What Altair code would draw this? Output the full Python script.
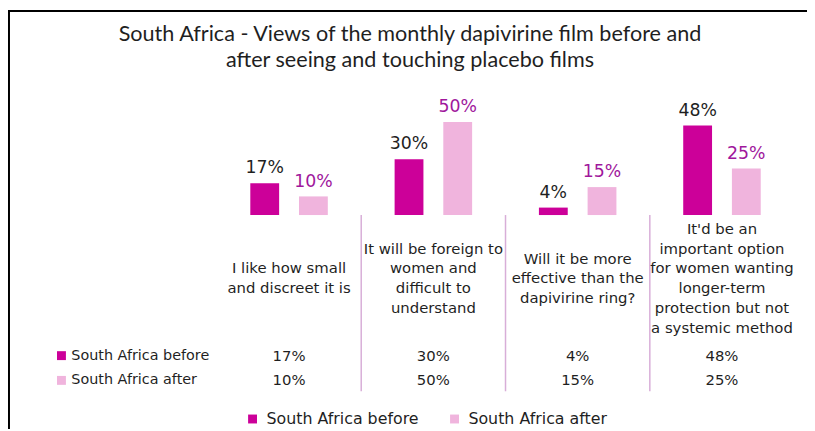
import altair as alt
import pandas as pd

# ---- data ----
cat_keys = ["small", "foreign", "effective", "option"]
cat_labels = [
    "I like how small\nand discreet it is",
    "It will be foreign to\nwomen and\ndifficult to\nunderstand",
    "Will it be more\neffective than the\ndapivirine ring?",
    "It'd be an\nimportant option\nfor women wanting\nlonger-term\nprotection but not\na systemic method",
]
series = ["South Africa before", "South Africa after"]
before = [17, 30, 4, 48]
after = [10, 50, 15, 25]
title_text = "South Africa - Views of the monthly dapivirine film before and\nafter seeing and touching placebo films"

colors = ["#CC0099", "#F0B4DD"]
label_purple = "#A0179C"
text_dark = "#1F1F1F"
sep_color = "#D8AED8"
FONT = "DejaVu Sans"

rows = []
for k, b, a in zip(cat_keys, before, after):
    rows.append({"key": k, "series": series[0], "value": b, "label": f"{b}%"})
    rows.append({"key": k, "series": series[1], "value": a, "label": f"{a}%"})
df = pd.DataFrame(rows)
df_cats = pd.DataFrame({"key": cat_keys, "text": cat_labels})
df_sep = pd.DataFrame({"key": cat_keys[1:]})
df_title = pd.DataFrame({"text": [title_text]})

xscale = alt.Scale(domain=cat_keys, range=[211, 794], paddingInner=0, paddingOuter=0)
X = alt.X("key:N", sort=cat_keys, scale=xscale, axis=None)
XC = alt.X("key:N", sort=cat_keys, scale=xscale, axis=None, bandPosition=0.5)
XO = alt.XOffset("series:N", sort=series,
                 scale=alt.Scale(domain=series, paddingInner=0.408, paddingOuter=0.686))
Y = alt.Y("value:Q", scale=alt.Scale(domain=[0, 110], nice=False, zero=True), axis=None)

legend = alt.Legend(
    title=None, orient="none", legendX=239, legendY=405, direction="horizontal",
    symbolType="square", symbolSize=81, symbolStrokeWidth=0, symbolOpacity=1,
    labelFont=FONT, labelFontSize=16, labelColor=text_dark, labelOffset=6,
    columnPadding=28, labelLimit=300,
)
COLOR = alt.Color("series:N", sort=series,
                  scale=alt.Scale(domain=series, range=colors), legend=legend)

base = alt.Chart(df)

bars = base.mark_bar().encode(x=X, xOffset=XO, y=Y, color=COLOR)

bar_labels = base.mark_text(baseline="alphabetic", dy=-10, font=FONT, fontSize=17.5).encode(
    x=X, xOffset=XO, y=Y, text="label:N",
    color=alt.condition(alt.datum.series == series[0], alt.value(text_dark), alt.value(label_purple)),
)

seps = alt.Chart(df_sep).mark_rule(color=sep_color, strokeWidth=1.5).encode(
    x=alt.X("key:N", sort=cat_keys, scale=xscale, axis=None, bandPosition=0),
    y=alt.value(207), y2=alt.value(385),
)

layers = [bars, bar_labels, seps]

# category labels, each block centred vertically on y = 271
for k, lab in zip(cat_keys, cat_labels):
    n = lab.count("\n") + 1
    layers.append(alt.Chart(df_cats).transform_filter(alt.datum.key == k).mark_text(
        lineBreak="\n", lineHeight=20, baseline="middle", align="center",
        font=FONT, fontSize=15, color=text_dark,
    ).encode(x=XC, y=alt.value(271 - (n - 1) * 10), text="text:N"))

row_y = [349, 374]
for s, yy in zip(series, row_y):
    sub = base.transform_filter(alt.datum.series == s)
    layers.append(sub.mark_text(baseline="middle", align="center", font=FONT, fontSize=15,
                                color=text_dark).encode(x=XC, y=alt.value(yy), text="label:N"))
    one = pd.DataFrame({"series": [s]})
    layers.append(alt.Chart(one).mark_square(size=81, opacity=1, strokeWidth=0).encode(
        x=alt.value(54), y=alt.value(yy), color=COLOR))
    layers.append(alt.Chart(one).mark_text(baseline="middle", align="left", font=FONT,
                                           fontSize=14.5, color=text_dark).encode(
        x=alt.value(64), y=alt.value(yy), text="series:N"))

title = alt.Chart(df_title).mark_text(
    lineBreak="\n", lineHeight=26, baseline="middle", align="center",
    font="Lato", fontSize=21.8, color=text_dark,
).encode(x=alt.value(406), y=alt.value(24), text="text:N")

border_left = alt.Chart(df_title).mark_rule(color="#000000", strokeWidth=2).encode(
    x=alt.value(1), y=alt.value(0), y2=alt.value(423))
border_top = alt.Chart(df_title).mark_rule(color="#000000", strokeWidth=2).encode(
    x=alt.value(0), x2=alt.value(807), y=alt.value(1))

layers += [title, border_left, border_top]

chart = alt.layer(*layers).properties(
    width=807, height=207,
    autosize=alt.AutoSizeParams(type="none"),
    padding={"left": 0, "top": 0, "right": 0, "bottom": 216},
).configure_view(stroke=None)

chart.save("out.html", embed_options={"renderer": "svg", "actions": False})
